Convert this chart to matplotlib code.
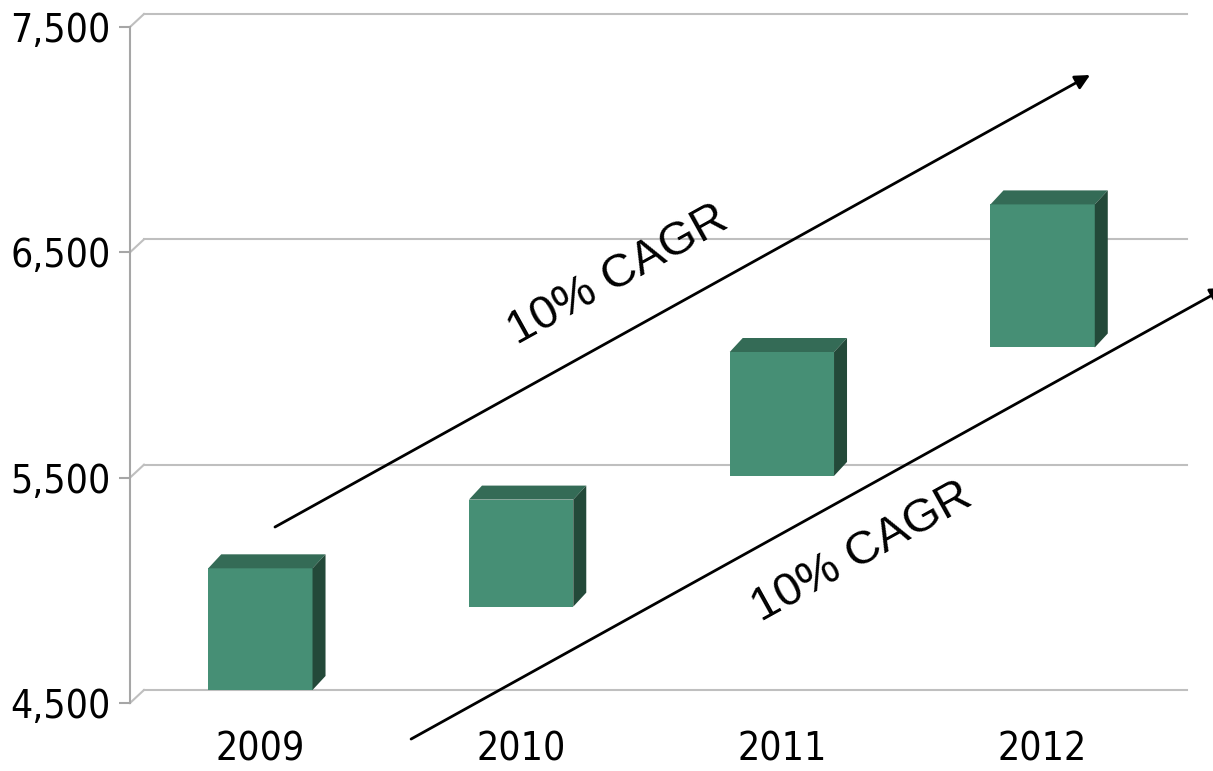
import numpy as np
import matplotlib
matplotlib.use("Agg")
import matplotlib.pyplot as plt
from matplotlib.transforms import offset_copy

years = ["2009", "2010", "2011", "2012"]
low = [4500, 4870, 5450, 6020]
high = [5040, 5345, 6000, 6655]
yticks = [4500, 5500, 6500, 7500]
ytick_labels = ["4,500", "5,500", "6,500", "7,500"]
cagr_text = "10% CAGR"

front = "#468F75"
top_c = "#346B56"
side_c = "#234939"
grid_c = "#BFBFBF"
axis_c = "#A6A6A6"

W, H, dpi = 1213, 771, 100
fig = plt.figure(figsize=(W / dpi, H / dpi), dpi=dpi)
# front plane of the 3d box
ax_l, ax_r, ax_b, ax_t = 130, 1173, 703, 27
ax = fig.add_axes([ax_l / W, (H - ax_b) / H, (ax_r - ax_l) / W, (ax_b - ax_t) / H])
ax.set_xlim(-0.5, 3.5)
ax.set_ylim(4500, 7500)

# pixel -> data conversions
px_x = (ax_r - ax_l) / 4.0
px_y = (ax_b - ax_t) / 3000.0
wall_dx, wall_dy = 14, 13      # back wall offset in px
depth_dx, depth_dy = 13, 14    # bar depth in px

for s in ["top", "right", "bottom"]:
    ax.spines[s].set_visible(False)
ax.spines["left"].set_color(axis_c)
ax.spines["left"].set_linewidth(1.5)

# back wall gridlines and side-wall connectors
back = offset_copy(ax.transData, fig=fig, x=wall_dx, y=wall_dy, units="dots")
for v in yticks:
    ax.plot([-0.5, 3.5], [v, v], color=grid_c, lw=1.5, transform=back, clip_on=False, zorder=1)
    ax.plot([-0.5, -0.5 + wall_dx / px_x], [v, v + wall_dy / px_y], color=grid_c, lw=1.5,
            clip_on=False, zorder=1)

# 3d floating columns
bw = 0.4
dxd = depth_dx / px_x
dyd = depth_dy / px_y
fdy = wall_dy / px_y
x = np.arange(len(years))
ax.bar(x, np.array(high) - np.array(low), bottom=np.array(low) + fdy, width=bw,
       color=front, zorder=3, clip_on=False)
for i in range(len(years)):
    x0, x1 = i - bw / 2, i + bw / 2
    b, t = low[i] + fdy, high[i] + fdy
    ax.fill([x0, x1, x1 + dxd, x0 + dxd], [t, t, t + dyd, t + dyd], color=top_c,
            zorder=3, clip_on=False, lw=0)
    ax.fill([x1, x1 + dxd, x1 + dxd, x1], [b, b + dyd, t + dyd, t], color=side_c,
            zorder=3, clip_on=False, lw=0)

# ticks
ax.set_yticks(yticks)
ax.set_yticklabels(ytick_labels)
ax.set_xticks(x)
ax.set_xticklabels(years)
ax.tick_params(axis="y", length=8, width=1.5, color=axis_c, pad=6, labelsize=28)
ax.tick_params(axis="x", length=0, pad=20, labelsize=28)
for lab in ax.get_xticklabels() + ax.get_yticklabels():
    lab.set_family(["DejaVu Sans"])
    lab.set_fontstretch("condensed")

# CAGR arrows
arrow = dict(arrowstyle="-|>", color="black", lw=2, mutation_scale=22, shrinkA=0, shrinkB=0)
ax.annotate("", xy=(3.182, 7287), xytext=(0.056, 5281), arrowprops=arrow,
            annotation_clip=False, zorder=4)
ax.annotate("", xy=(3.70, 6342), xytext=(0.578, 4340), arrowprops=arrow,
            annotation_clip=False, zorder=4)
ax.text(1.372, 6399, cagr_text, rotation=29, rotation_mode="anchor", ha="center",
        va="center", fontsize=34, family=["Liberation Sans", "DejaVu Sans"], zorder=5)
ax.text(2.307, 5170, cagr_text, rotation=29, rotation_mode="anchor", ha="center",
        va="center", fontsize=34, family=["Liberation Sans", "DejaVu Sans"], zorder=5)

fig.savefig("out.png", dpi=dpi)
